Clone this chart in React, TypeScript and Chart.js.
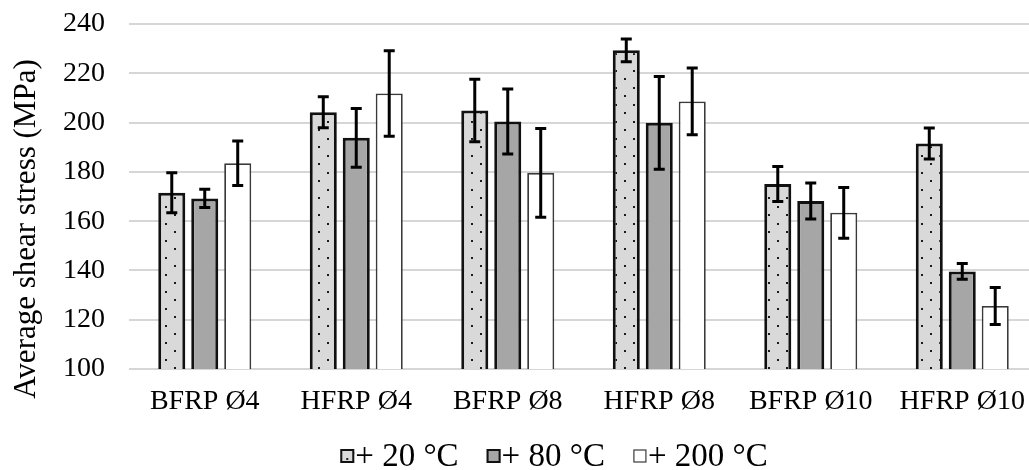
import React, { useEffect, useRef } from 'react';
import { Chart, registerables } from 'chart.js';

Chart.register(...registerables);

const categories = ['BFRP Ø4', 'HFRP Ø4', 'BFRP Ø8', 'HFRP Ø8', 'BFRP Ø10', 'HFRP Ø10'];
const seriesLabels = ['+ 20 °C', '+ 80 °C', '+ 200 °C'];
const values20 = [171.5, 204.2, 204.9, 229.3, 175.1, 191.5];
const values80 = [169.2, 193.8, 200.4, 199.9, 168.2, 139.6];
const values200 = [183.5, 211.8, 179.6, 208.6, 163.4, 125.6];
const err20 = [8.1, 6.3, 12.7, 4.6, 7.1, 6.3];
const err80 = [3.7, 11.9, 13.2, 18.8, 7.3, 3.2];
const err200 = [9.0, 17.3, 18.0, 13.5, 10.3, 7.5];
const yMin = 100;
const yMax = 240;
const yStep = 20;
const yTitle = 'Average shear stress (MPa)';

const FONT = "'Liberation Serif', 'Times New Roman', serif";

function makeDotPattern(ctx: CanvasRenderingContext2D): CanvasPattern | string {
  const c = document.createElement('canvas');
  c.width = 18;
  c.height = 17;
  const p = c.getContext('2d');
  if (!p) return '#d9d9d9';
  p.fillStyle = '#d9d9d9';
  p.fillRect(0, 0, 18, 17);
  p.fillStyle = '#1a1a1a';
  p.fillRect(3, 2, 2, 2);
  p.fillRect(12, 10, 2, 2);
  return ctx.createPattern(c, 'repeat') || '#d9d9d9';
}

export default function App() {
  const ref = useRef<HTMLCanvasElement | null>(null);

  useEffect(() => {
    const canvas = ref.current;
    if (!canvas) return;
    const ctx = canvas.getContext('2d');
    if (!ctx) return;
    const dots = makeDotPattern(ctx);

    const errors = [err20, err80, err200];
    const fills: any[] = [dots, '#a6a6a6', '#ffffff'];
    const borders = ['#111111', '#111111', '#3a3a3a'];
    const borderWidths = [3, 3, 1.8];

    const errorBars = {
      id: 'errorBars',
      afterDatasetsDraw(chart: any) {
        const c = chart.ctx;
        const y = chart.scales.y;
        c.save();
        c.strokeStyle = '#000';
        c.lineWidth = 3;
        chart.data.datasets.forEach((ds: any, di: number) => {
          const meta = chart.getDatasetMeta(di);
          meta.data.forEach((el: any, i: number) => {
            const v = ds.data[i];
            const e = errors[di][i];
            const x = el.x;
            const yt = y.getPixelForValue(v + e);
            const yb = y.getPixelForValue(v - e);
            const cap = 5.5;
            c.beginPath();
            c.moveTo(x, yt);
            c.lineTo(x, yb);
            c.moveTo(x - cap, yt);
            c.lineTo(x + cap, yt);
            c.moveTo(x - cap, yb);
            c.lineTo(x + cap, yb);
            c.stroke();
          });
        });
        c.restore();
      },
    };

    const customDecor = {
      id: 'customDecor',
      afterDraw(chart: any) {
        const c = chart.ctx;
        c.save();
        // y-axis title
        c.save();
        c.font = `31px ${FONT}`;
        c.fillStyle = '#000';
        c.textAlign = 'center';
        c.textBaseline = 'middle';
        c.translate(27, 229);
        c.rotate(-Math.PI / 2);
        c.fillText(yTitle, 0, 0);
        c.restore();
        // legend
        c.font = `33px ${FONT}`;
        c.textBaseline = 'middle';
        c.textAlign = 'left';
        const box = 14;
        const gap = 1;
        const itemGap = 28;
        const widths = seriesLabels.map((t) => c.measureText(t).width);
        const total = widths.reduce((a, w) => a + box + gap + w, 0) + itemGap * (seriesLabels.length - 1);
        const cy = 456;
        let x = 554 - total / 2;
        seriesLabels.forEach((t, i) => {
          c.fillStyle = fills[i];
          c.fillRect(x, cy - box / 2, box, box);
          if (i === 0) {
            c.fillStyle = '#1a1a1a';
            c.fillRect(x + box / 2 - 1, cy + 2, 2, 2);
          }
          c.strokeStyle = borders[i];
          c.lineWidth = i === 2 ? 1.2 : 2;
          c.strokeRect(x + 1, cy - box / 2 + 1, box - 2, box - 2);
          c.fillStyle = '#000';
          c.fillText(t, x + box + gap, cy + 1);
          x += box + gap + widths[i] + itemGap;
        });
        c.restore();
      },
    };

    const chart = new Chart(ctx, {
      type: 'bar',
      data: {
        labels: categories,
        datasets: [values20, values80, values200].map((d, i) => ({
          label: seriesLabels[i],
          data: d,
          backgroundColor: fills[i],
          borderColor: borders[i],
          borderWidth: borderWidths[i],
          borderSkipped: false,
          categoryPercentage: 0.653,
          barPercentage: 0.82,
        })),
      },
      options: {
        responsive: false,
        animation: false,
        maintainAspectRatio: false,
        layout: { padding: { top: 24, right: 2, bottom: 60, left: 0 } },
        plugins: {
          legend: { display: false },
          tooltip: { enabled: false },
        },
        scales: {
          x: {
            grid: { display: false, drawTicks: false },
            border: { display: false },
            ticks: {
              color: '#000',
              font: { family: FONT, size: 28 },
              padding: 16,
              maxRotation: 0,
              autoSkip: false,
            },
            afterFit: (s: any) => {
              s.height = 41;
              s.paddingLeft = 0;
              s.paddingRight = 0;
            },
          },
          y: {
            min: yMin,
            max: yMax,
            grid: { color: '#d6d6d6', lineWidth: 2, drawTicks: false },
            border: { display: false },
            ticks: {
              stepSize: yStep,
              color: '#000',
              font: { family: FONT, size: 28 },
              padding: 24,
            },
            afterFit: (s: any) => {
              s.width = 129;
              s.paddingTop = 0;
              s.paddingBottom = 0;
            },
          },
        },
      },
      plugins: [errorBars, customDecor],
    });

    return () => chart.destroy();
  }, []);

  return (
    <div style={{ position: 'fixed', left: 0, top: 0, width: 1029, height: 470, overflow: 'hidden', background: '#fff' }}>
      <canvas ref={ref} width={1040} height={470} style={{ display: 'block', width: 1040, height: 470 }} />
    </div>
  );
}
